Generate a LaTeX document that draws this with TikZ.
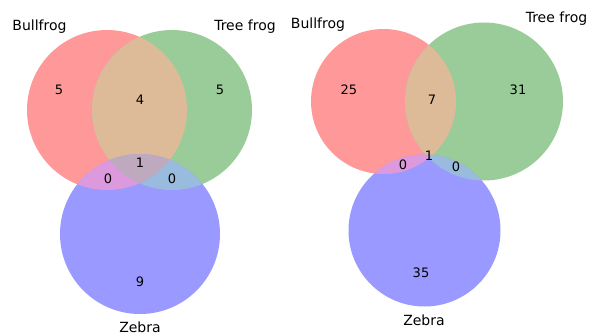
\documentclass[tikz,border=0pt]{standalone}
\usepackage{fontspec}
\setmainfont{DejaVu Sans}
\definecolor{cR}{HTML}{FF9999}
\definecolor{cG}{HTML}{99CC99}
\definecolor{cB}{HTML}{9999FF}
\definecolor{cRG}{HTML}{DDBB99}
\definecolor{cRB}{HTML}{DD99DD}
\definecolor{cGB}{HTML}{99BBDD}
\definecolor{cRGB}{HTML}{BFA9BE}
\tikzset{
  lbl/.style={font=\fontsize{14}{16}\selectfont, anchor=base, inner sep=0pt},
  num/.style={font=\fontsize{13}{15}\selectfont, inner sep=0pt},
}
\newcommand{\venndiag}[9]{%
  % #1,#2 A center; #3 A radius; #4,#5 B center; #6 B radius; #7,#8 C center; #9 C radius
  \fill[cR] (#1,#2) circle (#3);
  \fill[cG] (#4,#5) circle (#6);
  \fill[cB] (#7,#8) circle (#9);
  \begin{scope}\clip (#1,#2) circle (#3); \fill[cRG] (#4,#5) circle (#6); \end{scope}
  \begin{scope}\clip (#1,#2) circle (#3); \fill[cRB] (#7,#8) circle (#9); \end{scope}
  \begin{scope}\clip (#4,#5) circle (#6); \fill[cGB] (#7,#8) circle (#9); \end{scope}
  \begin{scope}\clip (#1,#2) circle (#3); \clip (#4,#5) circle (#6); \fill[cRGB] (#7,#8) circle (#9); \end{scope}
}
\begin{document}
\begin{tikzpicture}[x=1pt,y=-1pt]
\useasboundingbox (0,0) rectangle (592,335);
% left diagram
\venndiag{107}{110}{80}{172}{110}{80}{140}{234}{80}
\node[lbl] (l1) at (39.5,30) {Bullfrog};
\node[lbl] (l2) at (245,30) {Tree frog};
\node[lbl] (l3) at (140,332) {Zebra};
\node[num] (n100) at (59,90) {5};
\node[num] (n110) at (140,100) {4};
\node[num] (n010) at (220,90) {5};
\node[num] (n111) at (140,163) {1};
\node[num] (n101) at (108,179) {0};
\node[num] (n011) at (172,179) {0};
\node[num] (n001) at (140,282) {9};
% right diagram
\venndiag{383.5}{101.5}{72.5}{484}{101.5}{79}{424.5}{230.5}{76}
\node[lbl] (r1) at (318,28) {Bullfrog};
\node[lbl] (r2) at (556.5,22) {Tree frog};
\node[lbl] (r3) at (424,325) {Zebra};
\node[num] (m100) at (349,90) {25};
\node[num] (m110) at (432,100) {7};
\node[num] (m010) at (518,90) {31};
\node[num] (m111) at (429,156) {1};
\node[num] (m101) at (403,165) {0};
\node[num] (m011) at (456,167) {0};
\node[num] (m001) at (421,273) {35};
\end{tikzpicture}
\end{document}
